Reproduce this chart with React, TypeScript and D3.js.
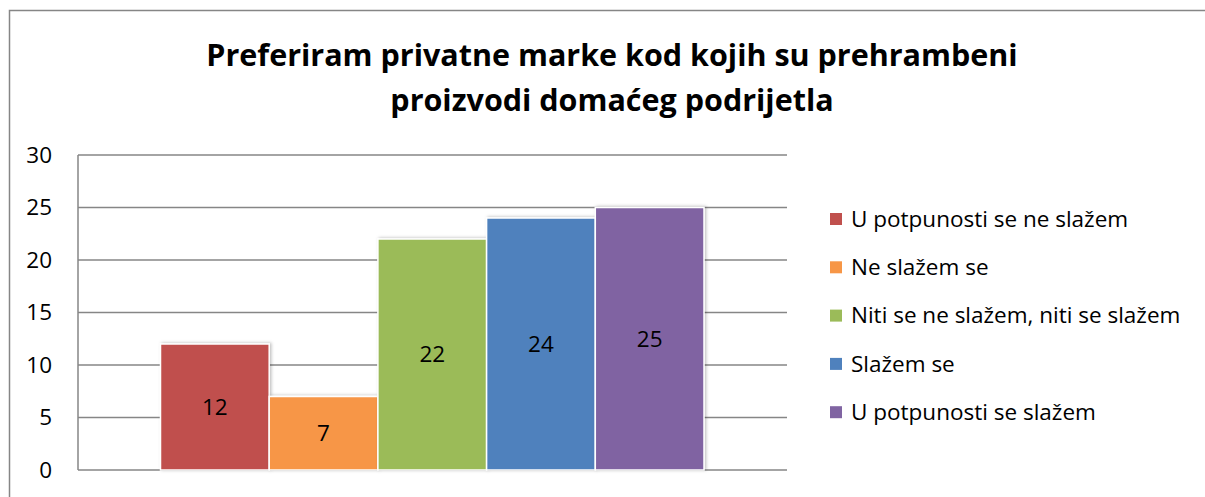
import * as d3 from "d3";

const categories = [
  "U potpunosti se ne slažem",
  "Ne slažem se",
  "Niti se ne slažem, niti se slažem",
  "Slažem se",
  "U potpunosti se slažem",
];
const values = [12, 7, 22, 24, 25];
const colors = ["#C0504D", "#F79646", "#9BBB59", "#4F81BD", "#8064A2"];
const yTicks = [0, 5, 10, 15, 20, 25, 30];
const titleLines = [
  "Preferiram privatne marke kod kojih su prehrambeni",
  "proizvodi domaćeg podrijetla",
];

export default function App() {
  const width = 1205;
  const height = 497;
  const plotLeft = 78;
  const plotRight = 787;
  const plotTop = 155;
  const plotBottom = 470;
  const font = "'Open Sans', Lato, sans-serif";

  const yScale = d3.scaleLinear().domain([0, 30]).range([plotBottom, plotTop]);
  const xScale = d3
    .scaleBand()
    .domain(categories)
    .range([160.5, 704])
    .paddingInner(0);

  return (
    <div style={{ position: "absolute", left: 0, top: 0 }}>
      <svg width={width} height={height} style={{ display: "block", fontFamily: font }}>
        <defs>
          <filter id="shadow" x="-10%" y="-10%" width="130%" height="130%">
            <feDropShadow dx="1.5" dy="-0.5" stdDeviation="1.5" floodColor="#000" floodOpacity="0.25" />
          </filter>
        </defs>
        <rect x={0} y={0} width={width} height={height} fill="#fff" />
        {/* chart border */}
        <rect x={9.5} y={10.5} width={width + 20} height={height + 20} fill="none" stroke="#868686" strokeWidth={1.5} />

        {/* title */}
        <g fontWeight="bold" fontSize={30.5} textAnchor="middle" fill="#000">
          {titleLines.map((t, i) => (
            <text key={i} x={612} y={66 + i * 45}>
              {t}
            </text>
          ))}
        </g>

        {/* gridlines */}
        <g>
          {yTicks.map((t) => (
            <line
              key={t}
              x1={plotLeft}
              x2={plotRight}
              y1={yScale(t)}
              y2={yScale(t)}
              stroke="#868686"
              strokeWidth={1.5}
            />
          ))}
          <line x1={plotLeft} x2={plotLeft} y1={plotTop} y2={plotBottom} stroke="#868686" strokeWidth={1.5} />
        </g>

        {/* y tick labels */}
        <g fontSize={22.5} textAnchor="end" fill="#000">
          {yTicks.map((t) => (
            <text key={t} x={52} y={yScale(t)} dy="0.35em">
              {t}
            </text>
          ))}
        </g>

        {/* bars */}
        <g>
          {categories.map((c, i) => (
            <rect
              key={c}
              x={xScale(c)!}
              y={yScale(values[i])}
              width={xScale.bandwidth()}
              height={plotBottom - yScale(values[i])}
              fill={colors[i]}
              stroke="#fff"
              strokeWidth={1.5}
              filter="url(#shadow)"
            />
          ))}
        </g>

        {/* data labels */}
        <g fontSize={22.5} textAnchor="middle" fill="#000">
          {categories.map((c, i) => (
            <text
              key={c}
              x={xScale(c)! + xScale.bandwidth() / 2}
              y={(yScale(values[i]) + plotBottom) / 2}
              dy="0.35em"
            >
              {values[i]}
            </text>
          ))}
        </g>

        {/* legend */}
        <g fontSize={22.5} fill="#000">
          {categories.map((c, i) => {
            const cy = 219 + i * 48.3;
            return (
              <g key={c}>
                <rect x={830} y={cy - 6} width={12} height={12} fill={colors[i]} />
                <text x={851} y={cy} dy="0.35em">
                  {c}
                </text>
              </g>
            );
          })}
        </g>
      </svg>
    </div>
  );
}
